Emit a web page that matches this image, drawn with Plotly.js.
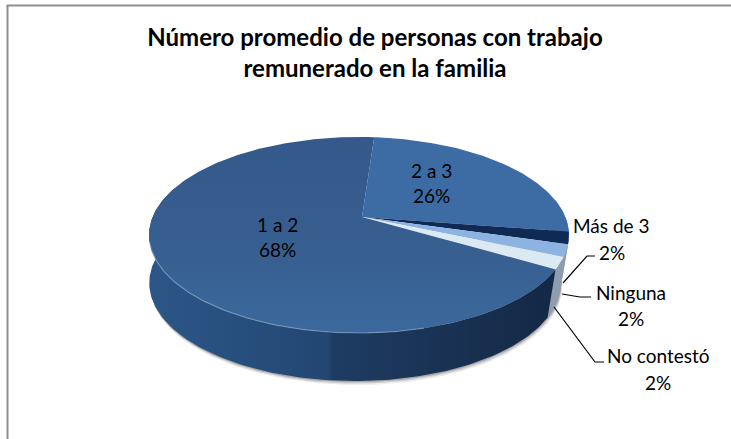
<!DOCTYPE html>
<html><head><meta charset="utf-8">
<script src="https://cdn.plot.ly/plotly-3.0.1.min.js"></script>
<style>html,body{margin:0;padding:0;background:#fff}#c{width:731px;height:439px}</style></head>
<body><div id="c"></div>
<script>
const categories = ['2 a 3','Más de 3','Ninguna','No contestó','1 a 2'];
const values = [26,2,2,2,68];
const titleLines = 'Número promedio de personas con trabajo<br>remunerado en la familia';
const topColors = ['#3d6ba4','#0f2a55','#8db3e2','#dbe9f3','#375f90'];
const wallColors = ['#6f8fb5','#8296ad','#8d9dae','#8e9eae',null];
const labelPos = [[431,170,195],[611,225,252],[631,292,318],[658,355,382],[277,224,249]];
const leaders = [
  {x:[563,587,595],y:[283,256,256]},
  {x:[562,580,591],y:[294,297,297]},
  {x:[554,595,604],y:[307,362,362]}
];
// projection of the pie disc
const cx=359,cy=217,ax=362,Sx=206.4,Sy=94.7,k=0.1837,startDeg=5;
const W=731,H=439,rad=Math.PI/180;
const proj=t=>{const u=Math.sin(t*rad),w=-Math.cos(t*rad),d=1-k*w;return [cx+Sx*u/d,cy+Sy*w/d,w];};
const lower=p=>[355+0.98*(p[0]-cx),283+(p[1]-235)];
const arc=(a,b)=>{const n=Math.max(2,Math.ceil(Math.abs(b-a)));const o=[];for(let i=0;i<=n;i++)o.push(a+(b-a)*i/n);return o;};
const visA=90-Math.asin(k)/rad, visB=270+Math.asin(k)/rad+8;
const total=values.reduce((s,v)=>s+v,0);
let acc=startDeg; const spans=values.map(v=>{const a=acc;acc+=v/total*360;return [a,acc];});
const traces=[];
const base={type:'scatter',mode:'lines',line:{width:0},hoverinfo:'skip',showlegend:false};
// soft shadow
[[4,.10],[2.6,.18],[1.3,.28]].forEach(([dy,op])=>{
  const pts=arc(visA-6,visB).map(t=>lower(proj(t)));
  traces.push({...base,x:pts.map(p=>p[0]+dy*0.4),y:pts.map(p=>p[1]+dy),fill:'toself',fillcolor:`rgba(70,70,70,${op})`});
});
// walls
spans.forEach(([a,b],i)=>{
  const s=Math.max(a,visA),e=Math.min(b,visB); if(e<=s) return;
  const ts=arc(s,e);
  const top=ts.map(proj),bot=ts.slice().reverse().map(t=>lower(proj(t)));
  const t={...base,x:top.map(p=>p[0]).concat(bot.map(p=>p[0])),y:top.map(p=>p[1]).concat(bot.map(p=>p[1])),fill:'toself'};
  if(wallColors[i]) t.fillcolor=wallColors[i];
  else t.fillgradient={type:'horizontal',start:149,stop:556,colorscale:[[0,'#2d5688'],[.2,'#27507e'],[.44,'#234672'],[.45,'#1e3c63'],[.7,'#1a3355'],[1,'#132845']]};
  traces.push(t);
});
// top face
spans.forEach(([a,b],i)=>{
  const pts=arc(a,b).map(proj);
  const t={...base,x:[ax,...pts.map(p=>p[0]),ax],y:[cy,...pts.map(p=>p[1]),cy],fill:'toself'};
  if(i===4) t.fillgradient={type:'vertical',start:137,stop:333,colorscale:[[0,'#34598a'],[.6,'#375f90'],[1,'#3b699d']]};
  else t.fillcolor=topColors[i];
  traces.push(t);
});
// rim highlight
{const pts=arc(165,255).map(proj);
 traces.push({...base,x:pts.map(p=>p[0]),y:pts.map(p=>p[1]),line:{width:1.2,color:'rgba(140,170,205,.6)'}});}
// leaders
leaders.forEach(l=>traces.push({...base,x:l.x,y:l.y,line:{width:1.2,color:'#000'}}));
// text
const annotations=[];
const font={family:'Lato, Carlito, sans-serif',size:19,color:'#000'};
categories.forEach((c,i)=>{
  annotations.push({x:labelPos[i][0],y:labelPos[i][1],text:c,showarrow:false,font,xref:'x',yref:'y'});
  annotations.push({x:labelPos[i][0]+(i==1?1:0),y:labelPos[i][2],text:values[i]+'%',showarrow:false,font,xref:'x',yref:'y'});
});
const layout={
  width:W,height:H,margin:{l:0,r:0,t:0,b:0},paper_bgcolor:'#fff',plot_bgcolor:'#fff',
  xaxis:{range:[0,W],visible:false,fixedrange:true},
  yaxis:{range:[H,0],visible:false,fixedrange:true},
  title:{text:titleLines,x:375/W,xanchor:'center',xref:'paper',y:1-46/H,yanchor:'middle',yref:'paper',font:{family:'Lato, Carlito, sans-serif',size:24,color:'#000',weight:'bold'}},
  showlegend:false,annotations,
  shapes:[
    {type:'line',xref:'x',yref:'y',x0:7.5,y0:5.5,x1:7.5,y1:H,line:{color:'#8f8f8f',width:2},layer:'below'},
    {type:'line',xref:'x',yref:'y',x0:6.5,y0:5.5,x1:W,y1:5.5,line:{color:'#8f8f8f',width:2},layer:'below'}
  ]
};
Plotly.newPlot('c',traces,layout,{displayModeBar:false,staticPlot:true});
</script></body></html>
